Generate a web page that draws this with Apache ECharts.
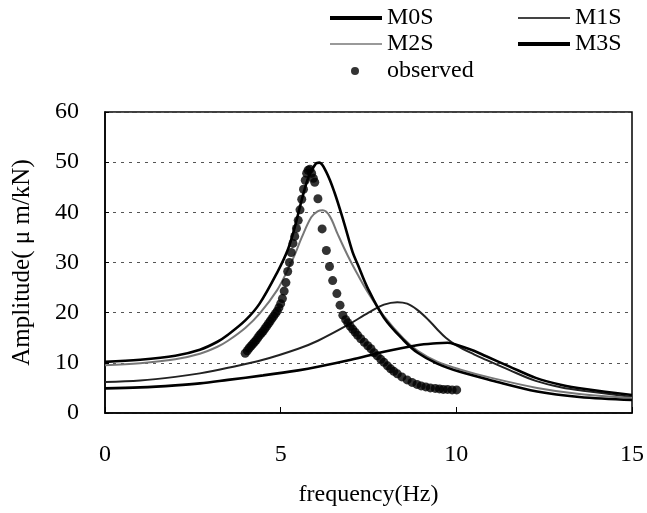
<!DOCTYPE html>
<html>
<head>
<meta charset="utf-8">
<script src="https://cdn.jsdelivr.net/npm/echarts@6/dist/echarts.min.js"></script>
<style>
html,body{margin:0;padding:0;background:#fff;}
#c{width:647px;height:513px;}
</style>
</head>
<body>
<div id="c"></div>
<script>
var xTicks = [0, 5, 10, 15];
var yTicks = [0, 10, 20, 30, 40, 50, 60];

var seriesNames = ['M0S', 'M1S', 'M2S', 'M3S', 'observed'];

var m0s = [[0,10.2],[1,10.6],[2,11.4],[2.7,12.6],[3.2,14.2],[3.5,15.6],[4.0,18.5],[4.4,21.8],[4.9,28],[5.2,32.5],[5.4,37],[5.6,42.5],[5.8,47.2],[6.0,49.7],[6.1,49.9],[6.3,48],[6.53,44],[6.8,38],[7.05,32],[7.2,29.5],[7.47,25],[7.94,19],[8.5,14.5],[8.9,12],[9.44,9.9],[10.1,8.2],[11,6.5],[12.3,4.3],[13.5,3.2],[15,2.6]];

var m1s = [[0,6.2],[1,6.5],[2,7.2],[2.7,7.9],[3.5,9.0],[4.5,10.6],[5.5,12.8],[6.06,14.4],[6.9,17.5],[7.5,20.0],[7.94,21.6],[8.32,22.1],[8.6,21.8],[8.88,20.6],[9.2,18.6],[9.44,16.8],[9.7,15.0],[10.0,13.5],[10.5,11.7],[10.85,10.6],[11.5,8.6],[12.26,6.4],[13,5.1],[13.67,4.4],[15,3.2]];

var m2s = [[0,9.5],[1,9.9],[2,10.7],[2.7,11.8],[3.2,13.2],[3.5,14.4],[4.0,17],[4.4,19.8],[4.9,24.5],[5.2,28.5],[5.4,31.5],[5.6,35],[5.87,39],[6.05,40.2],[6.2,40.4],[6.4,39.2],[6.62,35.7],[6.9,31.5],[7.2,27.5],[7.47,24.2],[7.94,19.3],[8.5,14.8],[8.9,12.4],[9.44,10.3],[10.1,8.7],[11,7],[12.3,5],[13.5,3.8],[15,3.0]];

var m3s = [[0,4.9],[1,5.1],[2,5.5],[2.7,5.9],[3.5,6.6],[4.5,7.5],[5.5,8.5],[6.06,9.2],[7,10.6],[7.94,12.2],[8.88,13.5],[9.44,13.9],[9.75,14.0],[10.0,13.6],[10.5,12.4],[10.85,11.3],[11.5,9.3],[12.26,7.0],[13,5.6],[13.67,4.8],[15,3.6]];

var observed = [[3.99,11.9],[4.05,12.4],[4.1,12.9],[4.15,13.3],[4.2,13.7],[4.25,14.1],[4.3,14.5],[4.35,15.0],[4.4,15.5],[4.45,15.9],[4.5,16.3],[4.55,16.8],[4.6,17.3],[4.65,17.8],[4.7,18.3],[4.75,18.8],[4.8,19.3],[4.85,19.8],[4.9,20.3],[4.95,21.0],[5.0,21.8],[5.05,22.8],[5.1,24.3],[5.15,26.0],[5.2,28.2],[5.25,30.0],[5.3,32.0],[5.35,33.8],[5.4,35.2],[5.45,36.8],[5.5,38.4],[5.55,40.5],[5.6,42.6],[5.65,44.6],[5.7,46.4],[5.74,47.8],[5.78,48.4],[5.83,48.6],[5.88,47.8],[5.93,46.8],[5.97,46.0],[6.06,42.7],[6.18,36.7],[6.3,32.4],[6.39,29.2],[6.48,26.4],[6.6,23.8],[6.69,21.5],[6.77,19.5],[6.85,18.6],[6.91,18.0],[6.98,17.3],[7.05,16.7],[7.12,16.1],[7.19,15.5],[7.28,14.8],[7.38,14.1],[7.48,13.4],[7.57,12.8],[7.66,12.0],[7.75,11.4],[7.85,10.7],[7.94,10.1],[8.04,9.4],[8.13,8.8],[8.22,8.3],[8.32,7.8],[8.45,7.2],[8.6,6.6],[8.74,6.1],[8.88,5.7],[9.0,5.4],[9.13,5.2],[9.26,5.0],[9.4,4.9],[9.52,4.8],[9.63,4.7],[9.75,4.7],[9.88,4.6],[10.01,4.6]];

var FONT = '"Liberation Serif", "Times New Roman", serif';
var chart = echarts.init(document.getElementById('c'), null, {renderer: 'canvas'});

function legendAt(name, left, top, opts) {
  return Object.assign({
    data: [name],
    left: left,
    top: top,
    orient: 'horizontal',
    itemWidth: 52,
    itemHeight: 4,
    itemGap: 0,
    padding: 0,
    selectedMode: false,
    textStyle: {fontFamily: FONT, fontSize: 24, color: '#000', padding: [0,0,0,0]}
  }, opts || {});
}

var option = {
  animation: false,
  backgroundColor: '#fff',
  legend: [
    legendAt(seriesNames[0], 330, 6, {icon: 'rect', itemStyle: {color: '#000'}}),
    legendAt(seriesNames[1], 518, 6, {icon: 'rect', itemHeight: 2, itemStyle: {color: '#444'}}),
    legendAt(seriesNames[2], 330, 32, {icon: 'rect', itemHeight: 2, itemStyle: {color: '#999'}}),
    legendAt(seriesNames[3], 518, 32, {icon: 'rect', itemStyle: {color: '#000'}}),
    legendAt(seriesNames[4], 351, 59, {icon: 'circle', itemWidth: 8, itemHeight: 8, itemGap: 0,
      itemStyle: {color: '#000'},
      textStyle: {fontFamily: FONT, fontSize: 24, color: '#000', padding: [0,0,0,23]}})
  ],
  grid: {
    left: 105, right: 10, top: 112, bottom: 100,
    show: true, borderColor: '#000', borderWidth: 1.5, backgroundColor: 'transparent',
    containLabel: false
  },
  xAxis: {
    type: 'value', min: 0, max: 15, interval: 5,
    name: 'frequency(Hz)', nameLocation: 'middle', nameGap: 70,
    nameTextStyle: {fontFamily: FONT, fontSize: 24, color: '#000'},
    axisLine: {show: true, lineStyle: {color: '#000', width: 1.5}},
    axisTick: {show: true, inside: true, length: 6, lineStyle: {color: '#000'}},
    axisLabel: {fontFamily: FONT, fontSize: 24, color: '#000', margin: 30,
      formatter: function (v) { return xTicks.indexOf(v) >= 0 ? String(v) : ''; }},
    splitLine: {show: false}
  },
  yAxis: {
    type: 'value', min: 0, max: 60, interval: 10,
    name: 'Amplitude( \u03bc m/kN)', nameLocation: 'middle', nameGap: 70, nameRotate: 90,
    nameTextStyle: {fontFamily: FONT, fontSize: 25, color: '#000', padding: [0, 0, 0, 0]},
    axisLine: {show: true, lineStyle: {color: '#000', width: 1.5}},
    axisTick: {show: true, inside: true, length: 4, lineStyle: {color: '#000'}},
    axisLabel: {fontFamily: FONT, fontSize: 24, color: '#000', margin: 26,
      formatter: function (v) { return yTicks.indexOf(v) >= 0 ? String(v) : ''; }},
    splitLine: {show: true, lineStyle: {color: '#555', width: 1, type: [3, 5]}}
  },
  series: [
    {name: seriesNames[0], type: 'line', data: m0s, smooth: 0.35, symbol: 'none',
      lineStyle: {color: '#000', width: 2.6}, itemStyle: {color: '#000'}, z: 3},
    {name: seriesNames[1], type: 'line', data: m1s, smooth: 0.35, symbol: 'none',
      lineStyle: {color: '#222', width: 2}, itemStyle: {color: '#444'}, z: 2},
    {name: seriesNames[2], type: 'line', data: m2s, smooth: 0.35, symbol: 'none',
      lineStyle: {color: '#777', width: 2}, itemStyle: {color: '#999'}, z: 2},
    {name: seriesNames[3], type: 'line', data: m3s, smooth: 0.35, symbol: 'none',
      lineStyle: {color: '#000', width: 2.6}, itemStyle: {color: '#000'}, z: 3},
    {name: seriesNames[4], type: 'scatter', data: observed, symbol: 'circle', symbolSize: 9,
      itemStyle: {color: '#000'}, z: 4}
  ]
};
chart.setOption(option);
</script>
</body>
</html>
